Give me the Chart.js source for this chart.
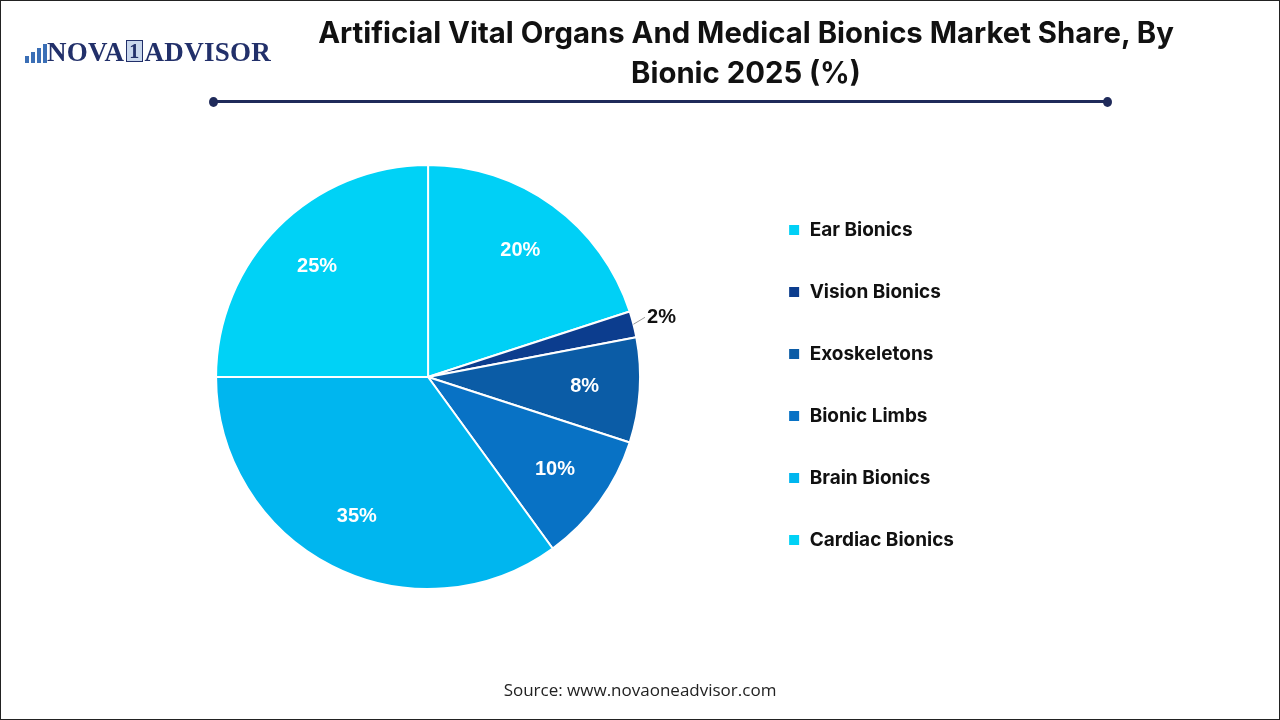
<!DOCTYPE html>
<html>
<head>
<meta charset="utf-8">
<script src="https://cdn.jsdelivr.net/npm/chart.js@4.4.1/dist/chart.umd.min.js"></script>
<style>
html, body { margin: 0; padding: 0; background: #fff; }
#wrap { position: relative; width: 1278px; height: 718px; border: 1px solid #222; overflow: hidden; }
#chart { position: absolute; left: 0; top: 0; }
#logo { position: absolute; left: 22px; top: 36px; font-family: "Liberation Serif", serif; font-weight: bold; font-size: 27px; color: #22306a; letter-spacing: 0.3px; }
#logo .one { display: inline-block; border: 1.5px solid #22306a; background: #c9d7ec; font-size: 20px; line-height: 20px; padding: 0 2px; margin: 0 2px; vertical-align: 3px; }
#logo .bars { display: inline-block; width: 24px; height: 20px; position: relative; vertical-align: -2px; }
#logo .bars i { position: absolute; bottom: 0; width: 4px; background: #3b6fb6; }
#title { position: absolute; left: 240px; width: 1010px; top: 12px; text-align: center; font-family: Inter, "Open Sans", sans-serif; font-weight: 700; font-size: 29.3px; line-height: 40px; color: #111; letter-spacing: 0; }
#rule { position: absolute; left: 213px; top: 99px; width: 894px; height: 3px; background: #1f2a5a; }
.dot { position: absolute; top: 96px; width: 9px; height: 10px; border-radius: 50%; background: #1f2a5a; }
#source { position: absolute; left: 0; width: 1278px; top: 677px; text-align: center; font-family: "Open Sans", sans-serif; font-size: 17px; color: #222; }
</style>
</head>
<body>
<div id="wrap">
  <canvas id="chart" width="1278" height="718"></canvas>
  <div id="logo"><span class="bars"><i style="left:2px;height:7px"></i><i style="left:8px;height:11px"></i><i style="left:14px;height:15px"></i><i style="left:20px;height:19px"></i></span>NOVA<span class="one">1</span>ADVISOR</div>
  <div id="title">Artificial Vital Organs And Medical Bionics Market Share, By<br>Bionic 2025 (%)</div>
  <div id="rule"></div>
  <div class="dot" style="left:208px"></div>
  <div class="dot" style="left:1102px"></div>
  <div id="source">Source: www.novaoneadvisor.com</div>
</div>
<script>
var categories = ['Ear Bionics', 'Vision Bionics', 'Exoskeletons', 'Bionic Limbs', 'Brain Bionics', 'Cardiac Bionics'];
var shares = [20, 2, 8, 10, 35, 25];
var colours = ['#00d0f6', '#0c3d8e', '#0b5ca6', '#0872c5', '#00b6ef', '#00d2f6'];

var sliceLabels = {
	id: 'sliceLabels',
	afterDatasetsDraw: function(chart) {
		var ctx = chart.ctx;
		var meta = chart.getDatasetMeta(0);
		ctx.save();
		ctx.font = 'bold 20px "Liberation Sans", Arial, sans-serif';
		ctx.textBaseline = 'middle';
		meta.data.forEach(function(arc, i) {
			var mid = (arc.startAngle + arc.endAngle) / 2;
			var r = arc.outerRadius;
			var txt = shares[i] + '%';
			if (shares[i] < 5) {
				// small slice: label outside with a short leader line
				var x0 = arc.x + Math.cos(mid) * r;
				var y0 = arc.y + Math.sin(mid) * r;
				var x1 = arc.x + Math.cos(mid) * (r + 12);
				var y1 = arc.y + Math.sin(mid) * (r + 12) - 4;
				ctx.strokeStyle = '#999';
				ctx.lineWidth = 1;
				ctx.beginPath();
				ctx.moveTo(x0, y0);
				ctx.lineTo(x1, y1);
				ctx.stroke();
				ctx.fillStyle = '#111';
				ctx.textAlign = 'left';
				ctx.fillText(txt, x1 + 2, y1);
			} else {
				var k = 0.74;
				ctx.fillStyle = '#fff';
				ctx.textAlign = 'center';
				ctx.fillText(txt, arc.x + Math.cos(mid) * r * k, arc.y + Math.sin(mid) * r * k);
			}
		});
		ctx.restore();
	}
};

var config = {
	type: 'pie',
	data: {
		labels: categories,
		datasets: [{
			data: shares,
			backgroundColor: colours,
			borderColor: '#fff',
			borderWidth: 2,
			radius: 212
		}]
	},
	options: {
		responsive: false,
		animation: false,
		layout: { padding: { left: 110, top: 130, bottom: 96, right: 315 } },
		plugins: {
			tooltip: { enabled: false },
			legend: {
				position: 'right',
				title: { display: true, text: ' ', padding: 7.4, font: { size: 1 } },
				labels: {
					boxWidth: 12,
					boxHeight: 12,
					padding: 43,
					color: '#111',
					font: { family: 'Inter, "Open Sans", sans-serif', size: 19, weight: '700' }
				}
			}
		}
	},
	plugins: [sliceLabels]
};

var ctx = document.getElementById('chart').getContext('2d');
window.myPie = new Chart(ctx, config);
</script>
</body>
</html>
